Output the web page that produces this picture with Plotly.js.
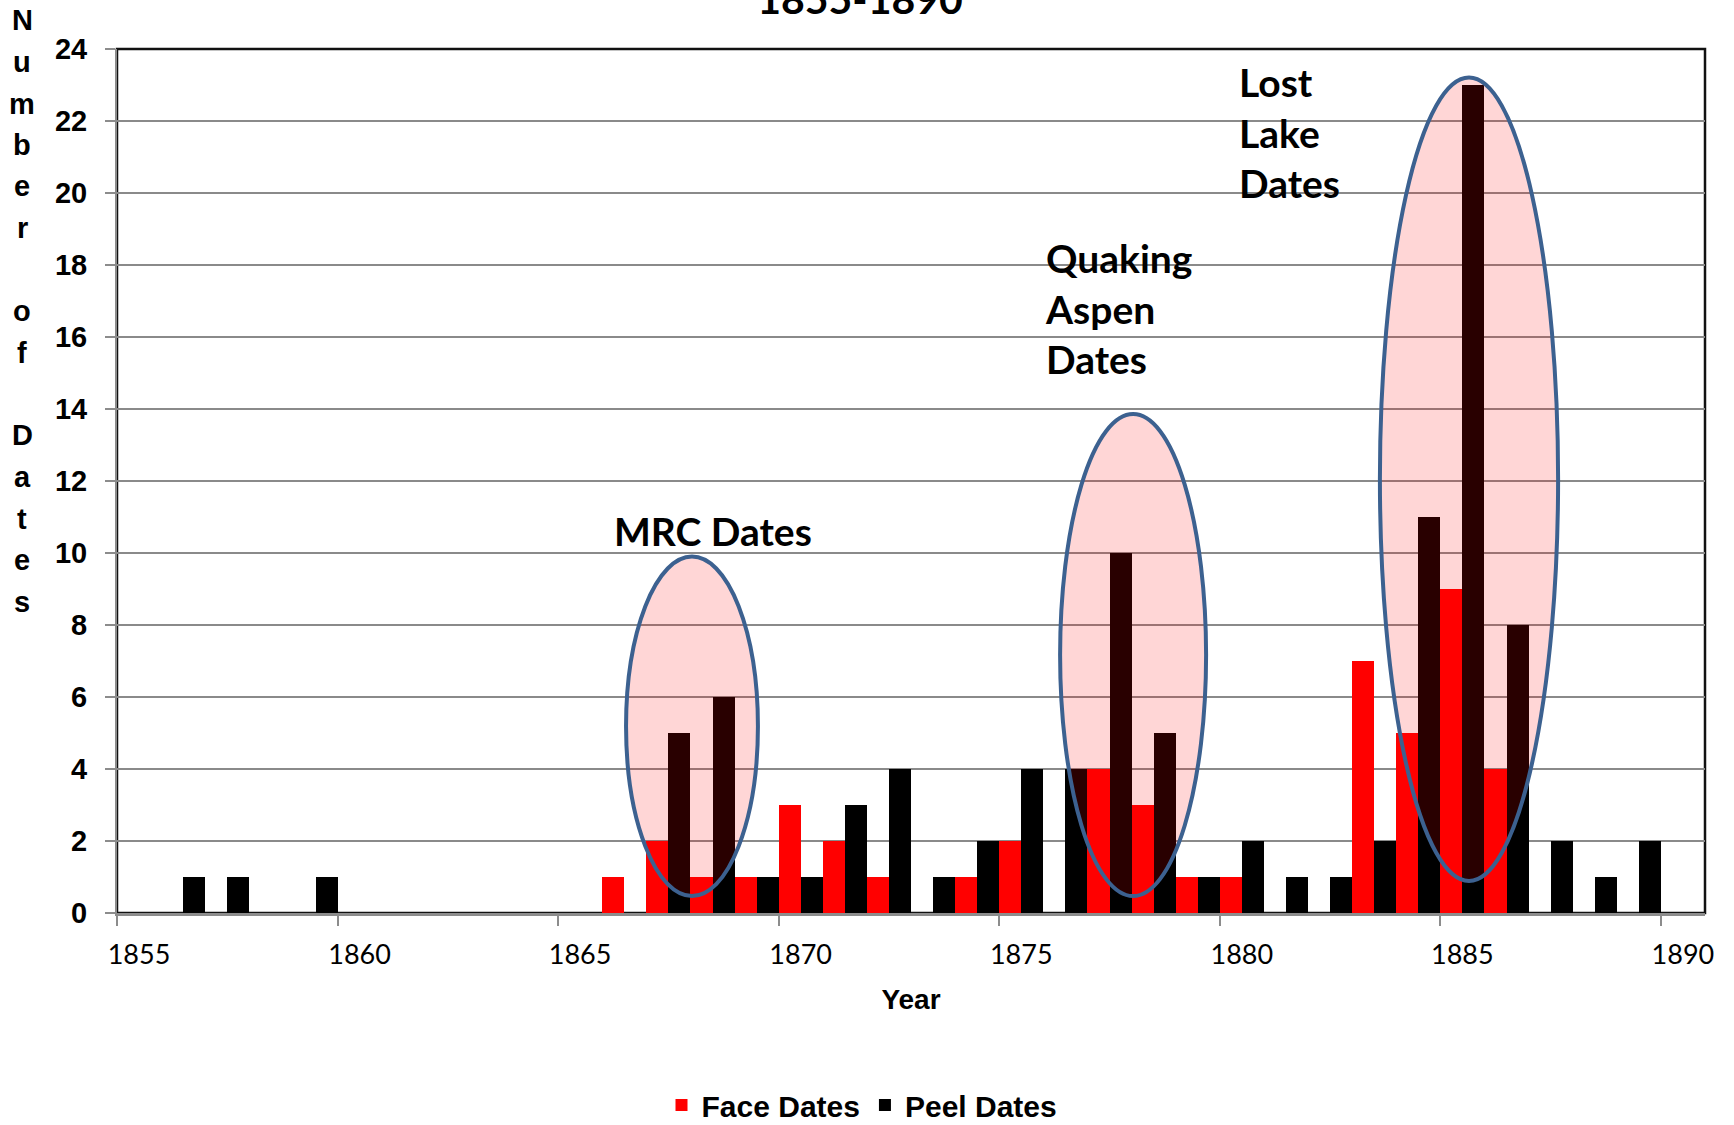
<!DOCTYPE html>
<html>
<head>
<meta charset="utf-8">
<script src="https://cdn.plot.ly/plotly-3.0.1.min.js"></script>
<style>
  html, body { margin: 0; padding: 0; background: #ffffff; overflow: hidden; }
  #chart { width: 1734px; height: 1125px; }
</style>
</head>
<body>
<div id="chart"></div>
<script>
// ---- data ----
const years = [1855,1856,1857,1858,1859,1860,1861,1862,1863,1864,1865,1866,1867,1868,1869,1870,1871,1872,1873,1874,1875,1876,1877,1878,1879,1880,1881,1882,1883,1884,1885,1886,1887,1888,1889,1890];
const faceDates = [0,0,0,0,0,0,0,0,0,0,0,1,2,1,1,3,2,1,0,1,2,0,4,3,1,1,0,0,7,5,9,4,0,0,0,0];
const peelDates = [0,1,1,0,1,0,0,0,0,0,0,0,5,6,1,1,3,4,1,2,4,4,10,5,1,2,1,1,2,11,23,8,2,1,2,0];
const tickYears = [1855,1860,1865,1870,1875,1880,1885,1890];
const seriesNames = ['Face Dates', 'Peel Dates'];
const chartTitle = '1855-1890';
const xTitle = 'Year';
const yTitle = 'Number of Dates';
const groupLabels = ['MRC Dates', 'Quaking<br>Aspen<br>Dates', 'Lost<br>Lake<br>Dates'];

// ---- layout geometry ----
const W = 1734, H = 1125;
const plotL = 117, plotR = 1705, plotT = 49, plotB = 913;
const pyToPaper = px => (plotB - px) / (plotB - plotT);
const pxToPaper = px => (px - plotL) / (plotR - plotL);

const arial = 'Liberation Sans, Arial, sans-serif';
const calib = 'Lato, Carlito, Calibri, sans-serif';

const traces = [
  { type: 'bar', name: seriesNames[0], x: years, y: faceDates,
    marker: { color: '#FF0000', line: { width: 0 } }, hoverinfo: 'x+y+name' },
  { type: 'bar', name: seriesNames[1], x: years, y: peelDates,
    marker: { color: '#000000', line: { width: 0 } }, hoverinfo: 'x+y+name' }
];

// vertical, letter-by-letter y-axis title
const annotations = [];
const letters = yTitle.split('');
letters.forEach((ch, i) => {
  if (ch === ' ') return;
  const baseline = 29.5 + 41.5 * i;
  annotations.push({
    text: ch, xref: 'paper', yref: 'paper',
    x: pxToPaper(22), y: pyToPaper(baseline - 9),
    xanchor: 'center', yanchor: 'middle', showarrow: false,
    font: { family: arial, size: 29, weight: 'bold', color: '#000000' }
  });
});

// group labels
const labelFont = { family: calib, size: 39, weight: 'bold', color: '#000000' };
annotations.push({ text: groupLabels[0], xref: 'x', yref: 'y', x: 1868.0, y: 10.62,
  xanchor: 'center', yanchor: 'middle', showarrow: false, font: labelFont });
annotations.push({ text: groupLabels[1], xref: 'x', yref: 'y', x: 1875.5, y: 16.8,
  xanchor: 'left', yanchor: 'middle', align: 'left', showarrow: false, font: labelFont });
annotations.push({ text: groupLabels[2], xref: 'x', yref: 'y', x: 1879.88, y: 21.68,
  xanchor: 'left', yanchor: 'middle', align: 'left', showarrow: false, font: labelFont });

const ellFill = 'rgba(255,0,0,0.16)';
const ellLine = { color: '#3C6190', width: 4 };
const shapes = [
  // plot-area border (top/right visible in black)
  { type: 'rect', xref: 'paper', yref: 'paper', x0: 0, x1: 1, y0: 0, y1: 1,
    line: { color: '#111111', width: 2.5 }, layer: 'below' },
  { type: 'circle', xref: 'x', yref: 'y', x0: 1866.04, x1: 1869.03, y0: 0.47, y1: 9.9,
    fillcolor: ellFill, line: ellLine, layer: 'above' },
  { type: 'circle', xref: 'x', yref: 'y', x0: 1875.88, x1: 1879.19, y0: 0.47, y1: 13.86,
    fillcolor: ellFill, line: ellLine, layer: 'above' },
  { type: 'circle', xref: 'x', yref: 'y', x0: 1883.13, x1: 1887.17, y0: 0.89, y1: 23.21,
    fillcolor: ellFill, line: ellLine, layer: 'above' }
];

const layout = {
  width: W, height: H,
  margin: { l: plotL, r: W - plotR, t: plotT, b: H - plotB, pad: 0, autoexpand: false },
  paper_bgcolor: '#ffffff', plot_bgcolor: '#ffffff',
  barmode: 'group', bargap: 0, bargroupgap: 0,
  showlegend: true,
  title: { text: chartTitle, xref: 'paper', x: pxToPaper(860), xanchor: 'center',
    yref: 'container', y: 1, yanchor: 'middle',
    font: { family: calib, size: 41, weight: 'bold', color: '#000000' } },
  xaxis: {
    range: [1854.5, 1890.5], fixedrange: true,
    tickmode: 'array', tickvals: tickYears.map(v => v - 0.5), ticktext: tickYears.map(String),
    ticklabelshift: 22, ticks: 'outside', ticklen: 10, tickwidth: 2, tickcolor: '#8c8c8c',
    ticklabelstandoff: 6,
    showgrid: false, zeroline: false, showline: true, linecolor: '#8c8c8c', linewidth: 2.5,
    tickfont: { family: calib, size: 27, color: '#000000' },
    title: { text: xTitle, standoff: 21, font: { family: arial, size: 28, weight: 'bold', color: '#000000' } }
  },
  yaxis: {
    range: [0, 24], dtick: 2, tick0: 0, fixedrange: true,
    ticks: 'outside', ticklen: 10, tickwidth: 2, tickcolor: '#8c8c8c',
    ticklabelstandoff: 12,
    showgrid: true, gridcolor: '#8a8a8a', gridwidth: 2,
    zeroline: false, showline: true, linecolor: '#8c8c8c', linewidth: 2,
    tickfont: { family: arial, size: 29, weight: 'bold', color: '#000000' }
  },
  legend: {
    orientation: 'h', xref: 'container', yref: 'container',
    x: 862 / W, xanchor: 'center', y: 1 - 1105 / H, yanchor: 'middle',
    font: { family: arial, size: 30, weight: 'bold', color: '#000000' },
    itemsizing: 'constant', bgcolor: 'rgba(0,0,0,0)', borderwidth: 0
  },
  annotations: annotations,
  shapes: shapes
};

Plotly.newPlot('chart', traces, layout, { displayModeBar: false, staticPlot: true });
</script>
</body>
</html>
